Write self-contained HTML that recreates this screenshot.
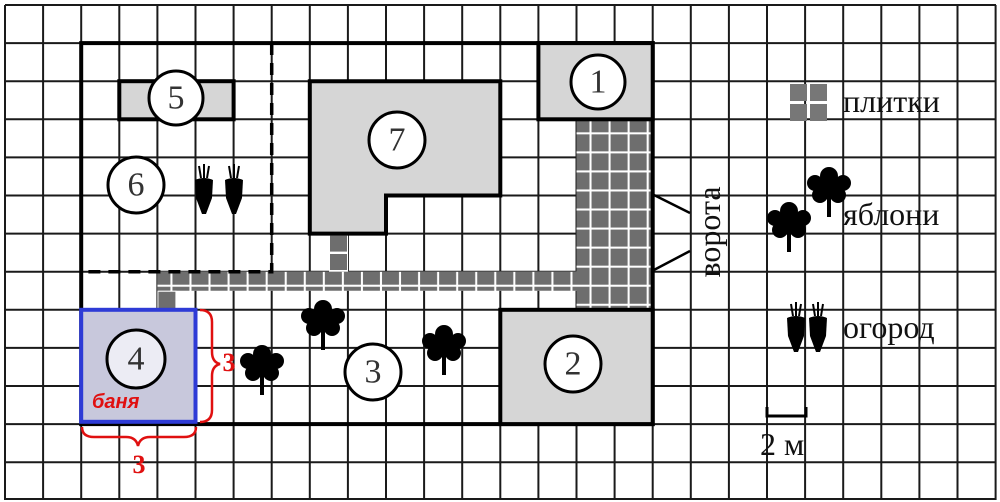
<!DOCTYPE html>
<html><head><meta charset="utf-8"><style>
html,body{margin:0;padding:0;background:#fff}
svg{display:block}
.n{font-family:"Liberation Serif",serif;font-size:34px;fill:#333;text-anchor:middle;dominant-baseline:central}
.lg{font-family:"Liberation Serif",serif;font-size:32px;fill:#111}
</style></head><body>
<svg width="1000" height="502" viewBox="0 0 1000 502" xmlns="http://www.w3.org/2000/svg">
<defs>
<g id="tree">
<rect x="-2" y="0" width="4" height="30" fill="#000"/>
<circle cx="0" cy="-11" r="9" fill="#000"/>
<circle cx="-14" cy="-4" r="8" fill="#000"/>
<circle cx="14" cy="-4" r="8" fill="#000"/>
<circle cx="-9" cy="8" r="8" fill="#000"/>
<circle cx="9" cy="8" r="8" fill="#000"/>
<circle cx="0" cy="0" r="12" fill="#000"/>
</g>
<g id="carrot">
<path d="M-9,-10 Q0,-14 9,-10 L8,8 L2,24 L-2,24 L-8,8 Z" fill="#000"/>
<path d="M-3,-12 L-5,-24 M0,-12 L0,-26 M3,-12 L5,-24" stroke="#000" stroke-width="2" fill="none"/>
</g>
<pattern id="tiles" x="0" y="0" width="19.05" height="19.05" patternUnits="userSpaceOnUse">
<rect x="1" y="1" width="17" height="17" fill="#6e6e6e"/>
</pattern>
</defs>
<rect width="1000" height="502" fill="#fff"/>
<g stroke="#1a1a1a" stroke-width="2">
<line x1="5" y1="5" x2="5" y2="500"/><line x1="43.1" y1="5" x2="43.1" y2="500"/><line x1="81.2" y1="5" x2="81.2" y2="500"/><line x1="119.3" y1="5" x2="119.3" y2="500"/><line x1="157.4" y1="5" x2="157.4" y2="500"/><line x1="195.5" y1="5" x2="195.5" y2="500"/><line x1="233.6" y1="5" x2="233.6" y2="500"/><line x1="271.7" y1="5" x2="271.7" y2="500"/><line x1="309.8" y1="5" x2="309.8" y2="500"/><line x1="347.9" y1="5" x2="347.9" y2="500"/><line x1="386" y1="5" x2="386" y2="500"/><line x1="424.1" y1="5" x2="424.1" y2="500"/><line x1="462.2" y1="5" x2="462.2" y2="500"/><line x1="500.3" y1="5" x2="500.3" y2="500"/><line x1="538.4" y1="5" x2="538.4" y2="500"/><line x1="576.5" y1="5" x2="576.5" y2="500"/><line x1="614.6" y1="5" x2="614.6" y2="500"/><line x1="652.7" y1="5" x2="652.7" y2="500"/><line x1="690.8" y1="5" x2="690.8" y2="500"/><line x1="728.9" y1="5" x2="728.9" y2="500"/><line x1="767" y1="5" x2="767" y2="500"/><line x1="805.1" y1="5" x2="805.1" y2="500"/><line x1="843.2" y1="5" x2="843.2" y2="500"/><line x1="881.3" y1="5" x2="881.3" y2="500"/><line x1="919.4" y1="5" x2="919.4" y2="500"/><line x1="957.5" y1="5" x2="957.5" y2="500"/><line x1="995.6" y1="5" x2="995.6" y2="500"/>
<line x1="5" y1="5" x2="996" y2="5"/><line x1="5" y1="43.1" x2="996" y2="43.1"/><line x1="5" y1="81.2" x2="996" y2="81.2"/><line x1="5" y1="119.3" x2="996" y2="119.3"/><line x1="5" y1="157.4" x2="996" y2="157.4"/><line x1="5" y1="195.5" x2="996" y2="195.5"/><line x1="5" y1="233.6" x2="996" y2="233.6"/><line x1="5" y1="271.7" x2="996" y2="271.7"/><line x1="5" y1="309.8" x2="996" y2="309.8"/><line x1="5" y1="347.9" x2="996" y2="347.9"/><line x1="5" y1="386" x2="996" y2="386"/><line x1="5" y1="424.1" x2="996" y2="424.1"/><line x1="5" y1="462.2" x2="996" y2="462.2"/><line x1="5" y1="499" x2="996" y2="499"/>
</g>
<rect x="576.5" y="119.3" width="76.2" height="190.5" fill="#fff"/>
<rect x="576.5" y="119.3" width="76.2" height="190.5" fill="url(#tiles)"/>
<rect x="157.4" y="271.7" width="419.1" height="19.05" fill="#fff"/>
<rect x="157.4" y="271.7" width="419.1" height="19.05" fill="url(#tiles)"/>
<rect x="157.4" y="290.75" width="19.05" height="19.05" fill="#fff"/>
<rect x="158.4" y="291.75" width="17" height="17" fill="#6e6e6e"/>
<rect x="329" y="234.6" width="19" height="37" fill="#fff"/>
<rect x="330" y="235.6" width="17" height="16" fill="#6e6e6e"/>
<rect x="330" y="254" width="17" height="16" fill="#6e6e6e"/>
<rect x="81.2" y="43.1" width="571.5" height="381" fill="none" stroke="#000" stroke-width="4"/>
<path d="M271.7,43 L271.7,271.7 L81,271.7" fill="none" stroke="#000" stroke-width="3.5" stroke-dasharray="12,8"/>
<rect x="538.4" y="43.1" width="114.3" height="76.2" fill="#d6d6d6" stroke="#000" stroke-width="4"/>
<rect x="500.3" y="309.8" width="152.4" height="114.3" fill="#d6d6d6" stroke="#000" stroke-width="4"/>
<rect x="119.3" y="81.2" width="114.3" height="38.1" fill="#d6d6d6" stroke="#000" stroke-width="4"/>
<path d="M309.8,81.2 L500.3,81.2 L500.3,195.5 L386,195.5 L386,233.6 L309.8,233.6 Z" fill="#d6d6d6" stroke="#000" stroke-width="4"/>
<rect x="81.2" y="309.8" width="114.3" height="112" fill="#c8c8dc" stroke="#2e3bd6" stroke-width="4"/>
<path d="M652,194 L690,213 M652,271 L690,251" stroke="#000" stroke-width="2.5"/>
<g fill="#fff" stroke="#000" stroke-width="3">
<circle cx="598" cy="82" r="27"/>
<circle cx="176" cy="98" r="27"/>
<circle cx="397" cy="140" r="28"/>
<circle cx="136" cy="185" r="28"/>
<circle cx="573" cy="364" r="28"/>
<circle cx="373" cy="372" r="28"/>
<circle cx="136" cy="359" r="29" fill="#ececf4"/>
</g>
<text class="n" x="598" y="82">1</text>
<text class="n" x="176" y="98">5</text>
<text class="n" x="397" y="140">7</text>
<text class="n" x="136" y="185">6</text>
<text class="n" x="573" y="364">2</text>
<text class="n" x="373" y="372">3</text>
<text class="n" x="136" y="359">4</text>
<use href="#tree" x="323" y="320"/>
<use href="#tree" x="262" y="365"/>
<use href="#tree" x="444" y="345"/>
<use href="#tree" x="829" y="187"/>
<use href="#tree" x="789" y="222"/>
<use href="#carrot" x="204" y="190"/>
<use href="#carrot" x="234" y="190"/>
<use href="#carrot" x="796" y="328"/>
<use href="#carrot" x="818" y="328"/>
<rect x="790" y="84" width="17" height="17" fill="#777"/><rect x="810" y="84" width="17" height="17" fill="#777"/>
<rect x="790" y="104" width="17" height="17" fill="#777"/><rect x="810" y="104" width="17" height="17" fill="#777"/>
<text class="lg" x="843" y="112">плитки</text>
<text class="lg" x="843" y="225">яблони</text>
<text class="lg" x="843" y="338">огород</text>
<path d="M767,407 L767,416 L806,416 L806,407" fill="none" stroke="#000" stroke-width="3"/>
<text class="lg" x="760" y="455">2 м</text>
<text class="lg" transform="translate(720,232) rotate(-90)" text-anchor="middle">ворота</text>
<path d="M200,310 Q212,310 212,322 L212,352 Q212,362 220,364 Q212,366 212,376 L212,410 Q212,422 200,422" fill="none" stroke="#e01010" stroke-width="2.5"/>
<path d="M82,427 Q82,437 94,437 L126,437 Q136,437 138,446 Q140,437 150,437 L184,437 Q196,437 196,427" fill="none" stroke="#e01010" stroke-width="2.5"/>
<text x="229" y="371" font-family="Liberation Serif,serif" font-weight="bold" font-size="26" fill="#e01010" text-anchor="middle">3</text>
<text x="139" y="473" font-family="Liberation Serif,serif" font-weight="bold" font-size="26" fill="#e01010" text-anchor="middle">3</text>
<text x="92" y="408" font-family="Liberation Sans,sans-serif" font-weight="bold" font-style="italic" font-size="20" fill="#e01010">баня</text>
</svg>
</body></html>
